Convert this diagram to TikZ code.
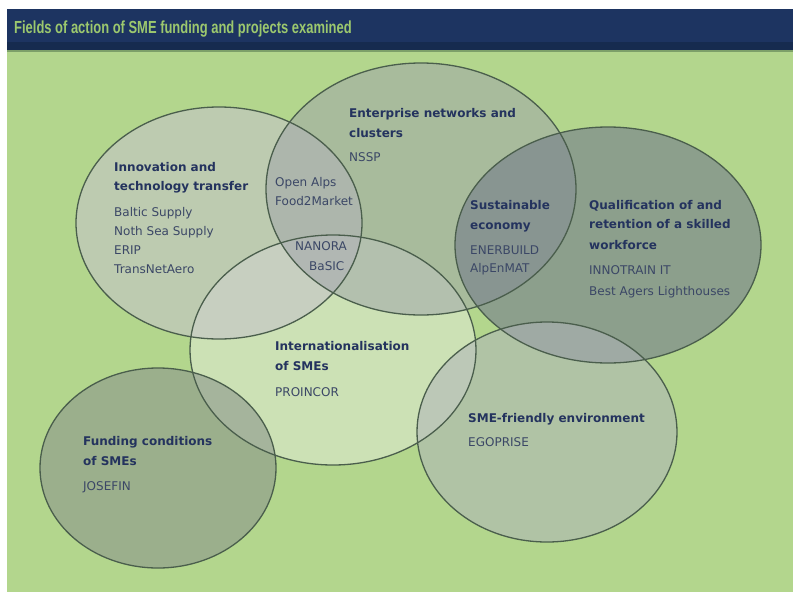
\documentclass[tikz,border=0pt]{standalone}
\usepackage{fontspec}
\setmainfont{DejaVu Sans}
\newfontfamily\titlefont[FakeStretch=0.74]{Liberation Sans}
\usetikzlibrary{shapes.geometric}
\definecolor{bggreen}{RGB}{179,214,141}
\definecolor{navy}{RGB}{29,52,97}
\definecolor{navydark}{RGB}{22,43,79}
\definecolor{midgreen}{RGB}{125,160,105}
\definecolor{titlegreen}{RGB}{156,200,110}
\definecolor{cIntl}{RGB}{225,235,215}
\definecolor{cInnov}{RGB}{196,196,200}
\definecolor{cEnt}{RGB}{160,165,170}
\definecolor{cQual}{RGB}{120,130,140}
\definecolor{cFund}{RGB}{140,150,140}
\definecolor{cSme}{RGB}{175,180,185}
\definecolor{outline}{RGB}{74,94,76}
\definecolor{headc}{RGB}{36,51,94}
\definecolor{projc}{RGB}{59,71,102}
\begin{document}
\begin{tikzpicture}[x=1pt,y=-1pt,
  blob/.style={ellipse, inner sep=0pt, draw=none},
  rim/.style={ellipse, inner sep=0pt, draw=outline, line width=1.3pt, fill=none},
  head/.style={anchor=base west, inner sep=0pt, text=headc, font=\bfseries\fontsize{12}{14}\selectfont},
  proj/.style={anchor=base west, inner sep=0pt, text=projc, font=\fontsize{12}{14}\selectfont}]
\useasboundingbox (0,0) rectangle (793,592);
\fill[white] (0,0) rectangle (793,592);
\fill[bggreen] (7,50) rectangle (793,592);
\fill[navy] (7,9) rectangle (793,42);
\fill[navydark] (7,42) rectangle (793,50);
\fill[midgreen] (7,50) rectangle (793,52);
\node[anchor=base west, inner sep=0pt, text=titlegreen, font=\titlefont\bfseries\fontsize{17.5}{20}\selectfont] (title) at (14,33) {Fields of action of SME funding and projects examined};
% fills
\node[blob, fill=cIntl, fill opacity=0.55, minimum width=286pt, minimum height=230pt] (intl) at (333,350) {};
\node[blob, fill=cInnov, fill opacity=0.6, minimum width=286pt, minimum height=232pt] (innov) at (219,223) {};
\node[blob, fill=cEnt, fill opacity=0.55, minimum width=310pt, minimum height=252pt] (ent) at (421,189) {};
\node[blob, fill=cQual, fill opacity=0.65, minimum width=306pt, minimum height=236pt] (qual) at (608,245) {};
\node[blob, fill=cFund, fill opacity=0.6, minimum width=236pt, minimum height=200pt] (fund) at (158,468) {};
\node[blob, fill=cSme, fill opacity=0.55, minimum width=260pt, minimum height=220pt] (sme) at (547,432) {};
% outlines
\node[rim, minimum width=286pt, minimum height=230pt] (intlR) at (intl) {};
\node[rim, minimum width=286pt, minimum height=232pt] (innovR) at (innov) {};
\node[rim, minimum width=310pt, minimum height=252pt] (entR) at (ent) {};
\node[rim, minimum width=306pt, minimum height=236pt] (qualR) at (qual) {};
\node[rim, minimum width=236pt, minimum height=200pt] (fundR) at (fund) {};
\node[rim, minimum width=260pt, minimum height=220pt] (smeR) at (sme) {};
% Innovation
\node[head] (in1) at (114,171) {Innovation and};
\node[head] (in2) at (114,190) {technology transfer};
\node[proj] (in3) at (114,216) {Baltic Supply};
\node[proj] (in4) at (114,235) {Noth Sea Supply};
\node[proj] (in5) at (114,254) {ERIP};
\node[proj] (in6) at (114,273) {TransNetAero};
% Enterprise
\node[head] (en1) at (349,117) {Enterprise networks and};
\node[head] (en2) at (349,137) {clusters};
\node[proj] (en3) at (349,161) {NSSP};
% Innov-Ent overlap
\node[proj] (ov1) at (275,186) {Open Alps};
\node[proj] (ov2) at (275,205) {Food2Market};
\node[proj] (ov3) at (295,250) {NANORA};
\node[proj] (ov4) at (309,270) {BaSIC};
% Sustainable
\node[head] (su1) at (470,209) {Sustainable};
\node[head] (su2) at (470,229) {economy};
\node[proj] (su3) at (470,254) {ENERBUILD};
\node[proj] (su4) at (470,272) {AlpEnMAT};
% Qualification
\node[head] (qu1) at (589,209) {Qualification of and};
\node[head] (qu2) at (589,228) {retention of a skilled};
\node[head] (qu3) at (589,249) {workforce};
\node[proj] (qu4) at (589,274) {INNOTRAIN IT};
\node[proj] (qu5) at (589,295) {Best Agers Lighthouses};
% Internationalisation
\node[head] (it1) at (275,350) {Internationalisation};
\node[head] (it2) at (275,370) {of SMEs};
\node[proj] (it3) at (275,396) {PROINCOR};
% Funding
\node[head] (fu1) at (83,445) {Funding conditions};
\node[head] (fu2) at (83,465) {of SMEs};
\node[proj] (fu3) at (83,490) {JOSEFIN};
% SME-friendly
\node[head] (sm1) at (468,422) {SME-friendly environment};
\node[proj] (sm2) at (468,446) {EGOPRISE};
\end{tikzpicture}
\end{document}
